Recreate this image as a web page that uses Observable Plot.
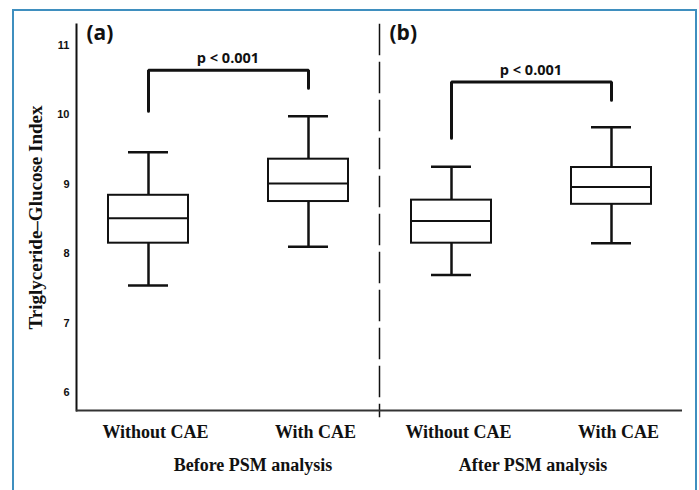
<!DOCTYPE html>
<html>
<head>
<meta charset="utf-8">
<script src="https://cdn.jsdelivr.net/npm/d3@7"></script>
<script src="https://cdn.jsdelivr.net/npm/@observablehq/plot@0.6"></script>
<style>
  html, body { margin: 0; padding: 0; background: #fff; }
  #wrap { position: relative; width: 699px; height: 490px; overflow: hidden; background: #fff; }
  #border { position: absolute; left: 12px; top: 9px; width: 685px; height: 600px; box-sizing: border-box; border: 2px solid #3f8fbf; }
  #chart { position: absolute; left: 0; top: 0; }
</style>
</head>
<body>
<div id="wrap"><div id="border"></div><div id="chart"></div></div>
<script>
// ---- data ----
const panels = ["Before PSM analysis", "After PSM analysis"];
const panelTags = ["(a)", "(b)"];
const groups = ["Without CAE", "With CAE"];
const boxPanel = [panels[0], panels[0], panels[1], panels[1]];
const boxGroup = [groups[0], groups[1], groups[0], groups[1]];
const lowWhisker  = [7.54, 8.10, 7.69, 8.15];
const q1          = [8.15, 8.75, 8.15, 8.71];
const median      = [8.51, 9.01, 8.47, 8.96];
const q3          = [8.84, 9.36, 8.77, 9.24];
const highWhisker = [9.46, 9.98, 9.25, 9.82];
const pLabels = ["p < 0.001", "p < 0.001"];
const bracketTop = [10.64, 10.47];
const bracketLeftEnd = [10.05, 9.66];
const bracketRightEnd = [10.38, 10.21];
const yTicks = [6, 7, 8, 9, 10, 11];
const yLabel = "Triglyceride–Glucose Index";

// ---- tables ----
const boxes = boxPanel.map((p, i) => ({
  panel: p, group: boxGroup[i],
  lo: lowWhisker[i], q1: q1[i], med: median[i], q3: q3[i], hi: highWhisker[i]
}));
const bracketPts = panels.flatMap((p, i) => [
  {panel: p, group: groups[0], v: bracketLeftEnd[i]},
  {panel: p, group: groups[0], v: bracketTop[i]},
  {panel: p, group: groups[1], v: bracketTop[i]},
  {panel: p, group: groups[1], v: bracketRightEnd[i]}
]);
const pData = panels.map((p, i) => ({panel: p, top: bracketTop[i], text: pLabels[i]}));
const tagData = panels.map((p, i) => ({panel: p, text: panelTags[i]}));

const serif = "'Liberation Serif', 'Times New Roman', serif";
const sans = "'Open Sans', 'Noto Sans', sans-serif";
const ink = "#111";

const chart = Plot.plot({
  width: 699,
  height: 490,
  marginLeft: 75,
  marginRight: 17,
  marginTop: 24,
  marginBottom: 80,
  style: {background: "transparent", color: ink},
  fx: {domain: panels, padding: 0, axis: null},
  x: {type: "band", domain: groups, paddingInner: 0.503, paddingOuter: 0.195},
  y: {domain: [5.74, 11.3]},
  marks: [
    Plot.frame({anchor: "left", facetAnchor: "left", stroke: ink, strokeWidth: 2}),
    Plot.frame({anchor: "left", facetAnchor: "right", insetBottom: -6, stroke: ink, strokeWidth: 1.5, strokeDasharray: "30,8"}),
    Plot.ruleY([5.74], {stroke: "#333", strokeWidth: 2}),
    Plot.axisY({anchor: "left", ticks: yTicks, tickFormat: d => String(d), tickSize: 0, tickPadding: 7, fontSize: 11, fontWeight: "bold", fontFamily: "'Liberation Sans', Arial, sans-serif", label: null}),
    Plot.axisY({anchor: "left", ticks: [], label: yLabel, labelAnchor: "center", labelArrow: "none", labelOffset: 48, fontSize: 19, fontWeight: "bold", fontFamily: serif}),
    Plot.axisX({anchor: "bottom", tickSize: 0, tickPadding: 15, fontSize: 18, fontWeight: "bold", fontFamily: serif, dx: 7, label: null}),
    Plot.text([panels[0]], {fx: d => d, text: d => d, frameAnchor: "bottom", dy: 60, dx: 25, fontSize: 18, fontWeight: "bold", fontFamily: serif}),
    Plot.text([panels[1]], {fx: d => d, text: d => d, frameAnchor: "bottom", dy: 60, dx: 2, fontSize: 18, fontWeight: "bold", fontFamily: serif}),
    Plot.text(tagData, {fx: "panel", text: "text", frameAnchor: "top-left", textAnchor: "start", lineAnchor: "top", dx: 10, dy: 1, fontSize: 21, fontWeight: "bold", fontFamily: sans}),
    // whiskers
    Plot.ruleX(boxes, {fx: "panel", x: "group", y1: "q3", y2: "hi", stroke: ink, strokeWidth: 2.5}),
    Plot.ruleX(boxes, {fx: "panel", x: "group", y1: "lo", y2: "q1", stroke: ink, strokeWidth: 2.5}),
    Plot.tickY(boxes, {fx: "panel", x: "group", y: "hi", insetLeft: 20, insetRight: 20, stroke: ink, strokeWidth: 2.5}),
    Plot.tickY(boxes, {fx: "panel", x: "group", y: "lo", insetLeft: 20, insetRight: 20, stroke: ink, strokeWidth: 2.5}),
    // boxes
    Plot.barY(boxes, {fx: "panel", x: "group", y1: "q1", y2: "q3", fill: "white", stroke: ink, strokeWidth: 2}),
    Plot.tickY(boxes, {fx: "panel", x: "group", y: "med", stroke: ink, strokeWidth: 2}),
    // significance brackets
    Plot.line(bracketPts, {fx: "panel", x: "group", y: "v", z: "panel", stroke: ink, strokeWidth: 3, strokeLinejoin: "miter"}),
    Plot.text(pData, {fx: "panel", y: "top", text: "text", dy: -12, fontSize: 14.5, fontWeight: "bold", fontFamily: sans})
  ]
});
document.getElementById("chart").appendChild(chart);
</script>
</body>
</html>
